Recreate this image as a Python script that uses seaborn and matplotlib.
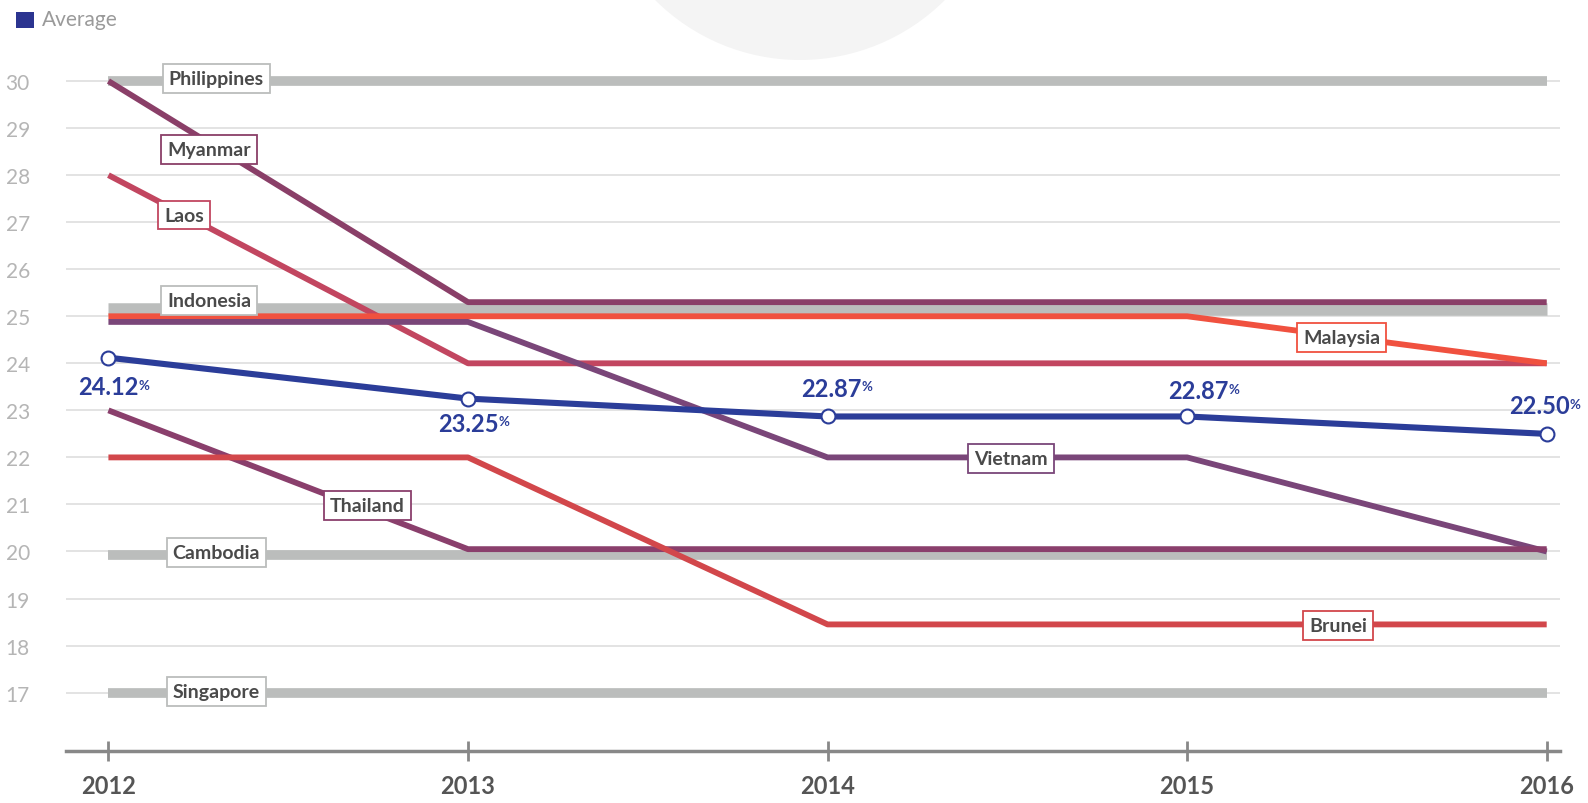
import pandas as pd
import matplotlib.pyplot as plt
import matplotlib.patches as mpatches
import seaborn as sns

# Data
years = [2012, 2013, 2014, 2015, 2016]
philippines = [30, 30, 30, 30, 30]
indonesia = [25.15, 25.15, 25.15, 25.15, 25.15]
cambodia = [19.92, 19.92, 19.92, 19.92, 19.92]
singapore = [17, 17, 17, 17, 17]
myanmar = [30, 25.3, 25.3, 25.3, 25.3]
laos = [28, 24, 24, 24, 24]
malaysia = [25, 25, 25, 25, 24]
vietnam = [24.88, 24.88, 22, 22, 20]
thailand = [23, 20.05, 20.05, 20.05, 20.05]
brunei = [22, 22, 18.45, 18.45, 18.45]
average = [24.12, 23.25, 22.87, 22.87, 22.50]
average_labels = ["24.12", "23.25", "22.87", "22.87", "22.50"]
y_ticks = list(range(17, 31))

gray_series = {"Philippines": philippines, "Indonesia": indonesia,
               "Cambodia": cambodia, "Singapore": singapore}
color_series = {"Myanmar": myanmar, "Laos": laos, "Malaysia": malaysia,
                "Vietnam": vietnam, "Thailand": thailand, "Brunei": brunei}
colors = {"Philippines": "#bbbdbc", "Indonesia": "#bbbdbc", "Cambodia": "#bbbdbc",
          "Singapore": "#bbbdbc", "Myanmar": "#8a3f68", "Laos": "#c24660",
          "Malaysia": "#f0513f", "Vietnam": "#7a4679", "Thailand": "#8a3f6c",
          "Brunei": "#d2474b"}

# label positions (year, value) for the boxed country names
label_pos = {"Philippines": (2012.30, 30.05), "Myanmar": (2012.28, 28.55),
             "Laos": (2012.21, 27.15), "Indonesia": (2012.28, 25.33),
             "Malaysia": (2015.43, 24.55), "Vietnam": (2014.51, 21.98),
             "Thailand": (2012.72, 20.98), "Cambodia": (2012.30, 19.98),
             "Brunei": (2015.42, 18.43), "Singapore": (2012.30, 17.02)}
avg_label_off = [(-0.0, -0.62), (0.0, -0.52), (0.01, 0.6), (0.03, 0.55), (-0.02, 0.6)]

sns.set_theme(style="white")
plt.rcParams['font.family'] = ['Lato', 'DejaVu Sans']

fig = plt.figure(figsize=(15.88, 8.04), dpi=100)
ax = fig.add_axes([66 / 1588, 52.5 / 804, (1560 - 66) / 1588, (769 - 52.5) / 804])

# faint decorative circle at the top
fig.patches.append(mpatches.Circle((800, 948), 205, transform=None,
                                   facecolor="#f4f4f4", edgecolor="none", zorder=0))

for v in y_ticks:
    ax.axhline(v, color="#dedede", lw=1.2, zorder=1)

rows = []
for name, vals in {**gray_series, **color_series}.items():
    for yr, v in zip(years, vals):
        rows.append({"year": yr, "rate": v, "country": name})
df = pd.DataFrame(rows)

for name in gray_series:
    sns.lineplot(data=df[df.country == name], x="year", y="rate", color=colors[name],
                 lw=7 if name != "Indonesia" else 9, ax=ax, zorder=2,
                 solid_capstyle="butt")
for name in color_series:
    sns.lineplot(data=df[df.country == name], x="year", y="rate", color=colors[name],
                 lw=4.2, ax=ax, zorder=3, solid_capstyle="butt")

avg_df = pd.DataFrame({"year": years, "rate": average})
sns.lineplot(data=avg_df, x="year", y="rate", color="#2b3d99", lw=4.4, ax=ax, zorder=4,
             marker="o", markersize=10, markerfacecolor="white",
             markeredgecolor="#2b3d99", markeredgewidth=1.5)

for name, (x, y) in label_pos.items():
    ax.text(x, y, name, ha="center", va="center", fontsize=14, fontweight="bold",
            color="#4a4a4a", zorder=6,
            bbox=dict(boxstyle="square,pad=0.3", fc="white", ec=colors[name], lw=1.3))

for yr, v, lab, (dx, dy) in zip(years, average, average_labels, avg_label_off):
    t = ax.text(yr + dx, v + dy, lab, ha="center", va="center", fontsize=17,
                fontweight="bold", color="#2b3d99", zorder=6)
    ax.annotate("%", xy=(1, 0.85), xycoords=t, ha="left", va="top", fontsize=9.5,
                fontweight="bold", color="#2b3d99", zorder=6)

ax.set_xlim(2011.882, 2016.037)
ax.set_ylim(15.77, 31.0)
ax.set_yticks(y_ticks)
ax.set_yticklabels([str(v) for v in y_ticks])
ax.set_xticks(years)
ax.set_xticklabels([str(y) for y in years])
ax.set_xlabel("")
ax.set_ylabel("")
for s in ["top", "right", "left"]:
    ax.spines[s].set_visible(False)
ax.spines["bottom"].set_color("#888888")
ax.spines["bottom"].set_linewidth(2.5)
ax.tick_params(axis="y", left=False, length=0, labelsize=15, labelcolor="#b5b5b5", pad=26)
ax.tick_params(axis="x", bottom=True, length=14, width=2, color="#888888", direction="inout",
               labelsize=17, labelcolor="#555555", pad=10)
for lab in ax.get_xticklabels():
    lab.set_fontweight("bold")

# legend
fig.patches.append(mpatches.Rectangle((16, 804 - 29), 18, 16, transform=None,
                                      facecolor="#2b3490", edgecolor="none"))
fig.text(42 / 1588, 1 - 20 / 804, "Average", ha="left", va="center", fontsize=15,
         color="#9a9a9a")

fig.savefig("out.png", dpi=100)
